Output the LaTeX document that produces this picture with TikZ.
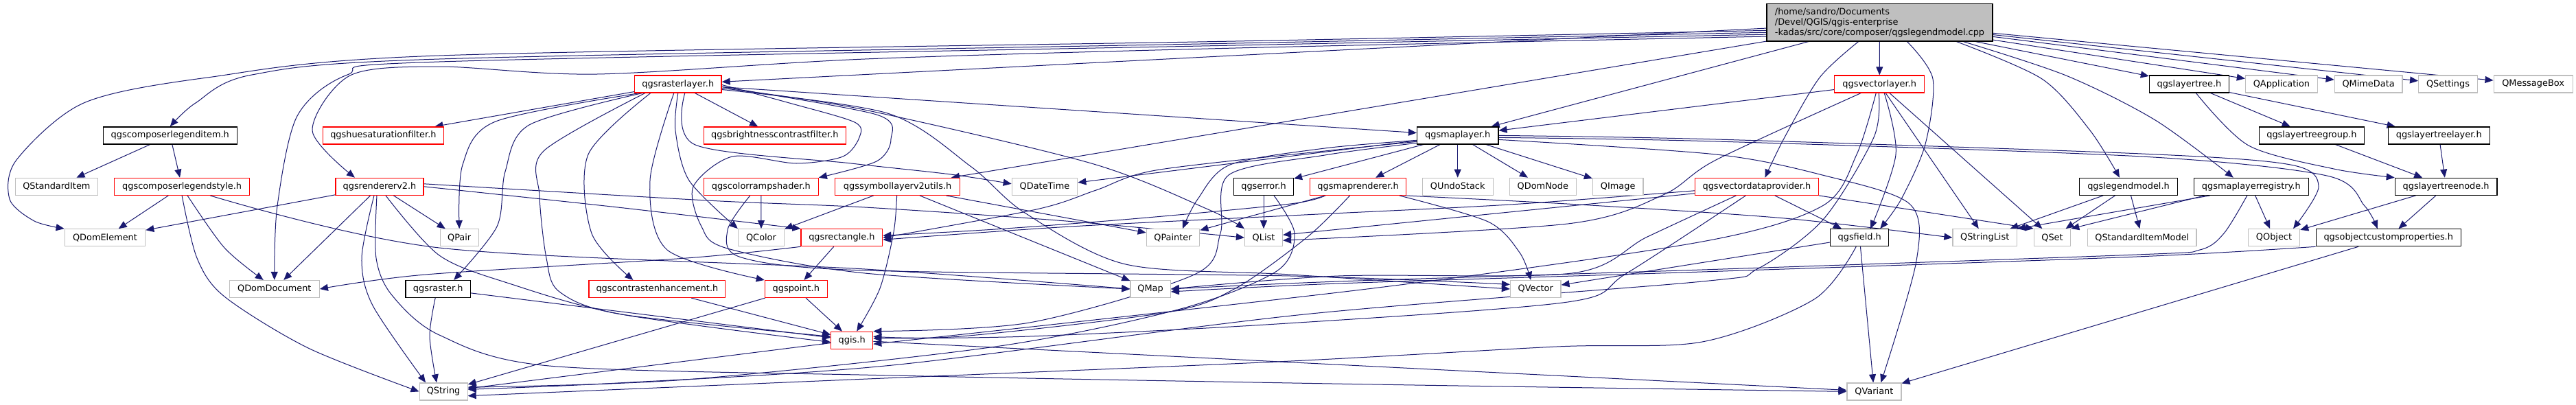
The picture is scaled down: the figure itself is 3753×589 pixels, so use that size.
\documentclass[tikz,border=0pt]{standalone}
\usepackage{fontspec}
\setmainfont{DejaVu Sans}
\usepackage{tikz}
\usetikzlibrary{arrows.meta,backgrounds}
\definecolor{lnk}{HTML}{191970}
\definecolor{grey75}{HTML}{BFBFBF}
\definecolor{trunc}{HTML}{FF0000}
\newcommand{\dxfont}{\fontsize{12.9}{14.7}\selectfont}
\tikzset{
  >={Triangle[length=12pt,width=10pt]},
  box/.style={draw=black,line width=1.2pt,fill=white,minimum height=25pt,inner sep=2pt,font=\dxfont,align=center},
  rbox/.style={box,draw=trunc},
  gbox/.style={box,draw=grey75},
  tbox/.style={box,fill=grey75,minimum height=54.5pt,align=left},
  arr/.style={->,draw=lnk,line width=1pt},
}

\begin{document}
\begin{tikzpicture}[x=1pt,y=-1pt]
\useasboundingbox (0,0) rectangle (3753,589);
% the file itself
\node[tbox,minimum width=329pt] (root) at (2738.5,32.8) {/home/sandro/Documents\\/Devel/QGIS/qgis-enterprise\\-kadas/src/core/composer/qgslegendmodel.cpp};
% row 1
\node[rbox,minimum width=126.5pt] (rlay) at (987.8,122.5) {qgsrasterlayer.h};
\node[rbox,minimum width=131pt] (vlay) at (2738.2,122.5) {qgsvectorlayer.h};
\node[box,minimum width=116pt] (ltree) at (3189.4,122.5) {qgslayertree.h};
\node[gbox,minimum width=105pt] (qapp) at (3323.9,122.5) {QApplication};
\node[gbox,minimum width=98.7pt] (qmime) at (3450.6,122.5) {QMimeData};
\node[gbox,minimum width=85.7pt] (qsett) at (3566.5,122.5) {QSettings};
\node[gbox,minimum width=115pt] (qmbox) at (3690.6,122.5) {QMessageBox};
% row 2
\node[box,minimum width=195pt] (cli) at (247.8,197.4) {qgscomposerlegenditem.h};
\node[rbox,minimum width=176pt] (hsf) at (558.4,197.4) {qgshuesaturationfilter.h};
\node[rbox,minimum width=207pt] (bcf) at (1128.8,197.4) {qgsbrightnesscontrastfilter.h};
\node[box,minimum width=118.4pt] (mlay) at (2123.7,197.4) {qgsmaplayer.h};
\node[box,minimum width=153pt] (ltgrp) at (3367.9,197.4) {qgslayertreegroup.h};
\node[box,minimum width=148pt] (ltlay) at (3553.2,197.4) {qgslayertreelayer.h};
% row 3
\node[gbox,minimum width=120pt] (qsitem) at (82.4,271.8) {QStandardItem};
\node[rbox,minimum width=197pt] (cls) at (265.1,271.8) {qgscomposerlegendstyle.h};
\node[rbox,minimum width=128pt] (rend) at (553,271.8) {qgsrendererv2.h};
\node[rbox,minimum width=167pt] (crs) at (1108.8,271.8) {qgscolorrampshader.h};
\node[rbox,minimum width=182.5pt] (slu) at (1307.6,271.8) {qgssymbollayerv2utils.h};
\node[gbox,minimum width=95.5pt] (qdtime) at (1522,271.8) {QDateTime};
\node[box,minimum width=87pt] (err) at (1841,271.8) {qgserror.h};
\node[rbox,minimum width=140pt] (mrend) at (1978.6,271.8) {qgsmaprenderer.h};
\node[gbox,minimum width=103pt] (qundo) at (2123.7,271.8) {QUndoStack};
\node[gbox,minimum width=97pt] (qdnode) at (2247.8,271.8) {QDomNode};
\node[gbox,minimum width=73.5pt] (qimg) at (2357.2,271.8) {QImage};
\node[rbox,minimum width=180pt] (vdp) at (2559.4,271.8) {qgsvectordataprovider.h};
\node[box,minimum width=143pt] (lmod) at (3101,271.8) {qgslegendmodel.h};
\node[box,minimum width=167pt] (mlreg) at (3279.8,271.8) {qgsmaplayerregistry.h};
\node[box,minimum width=148.6pt] (ltnode) at (3563.6,271.8) {qgslayertreenode.h};
% row 4
\node[gbox,minimum width=117.5pt] (qdelem) at (153,346.2) {QDomElement};
\node[gbox,minimum width=56pt] (qpair) at (669.2,346.2) {QPair};
\node[gbox,minimum width=67pt] (qcolor) at (1109,346.2) {QColor};
\node[rbox,minimum width=118.7pt] (rect) at (1226.4,346.2) {qgsrectangle.h};
\node[gbox,minimum width=77.6pt] (qpaint) at (1709,346.2) {QPainter};
\node[gbox,minimum width=55pt] (qlist) at (1841,346.2) {QList};
\node[box,minimum width=85.3pt] (fld) at (2709.2,346.2) {qgsfield.h};
\node[gbox,minimum width=93.5pt] (qslist) at (2891.7,346.2) {QStringList};
\node[gbox,minimum width=53.4pt] (qset) at (2990,346.2) {QSet};
\node[gbox,minimum width=158.3pt] (qsim) at (3120.8,346.2) {QStandardItemModel};
\node[gbox,minimum width=75.2pt] (qobj) at (3313,346.2) {QObject};
\node[box,minimum width=211pt] (ocp) at (3479.7,346.2) {qgsobjectcustomproperties.h};
% row 5
\node[gbox,minimum width=131pt] (qddoc) at (399.8,421) {QDomDocument};
\node[box,minimum width=94.3pt] (rast) at (638.2,421) {qgsraster.h};
\node[rbox,minimum width=198.7pt] (cenh) at (957.4,421) {qgscontrastenhancement.h};
\node[rbox,minimum width=91pt] (pnt) at (1159.8,421) {qgspoint.h};
\node[gbox,minimum width=58.4pt] (qmap) at (1676.1,421) {QMap};
\node[gbox,minimum width=73.5pt] (qvec) at (2237.2,421) {QVector};
% row 6 and 7
\node[rbox,minimum width=61pt] (qgis) at (1241.2,495.7) {qgis.h};
\node[gbox,minimum width=70pt] (qstr) at (646.1,570.4) {QString};
\node[gbox,minimum width=79pt] (qvar) at (2730.4,570.4) {QVariant};

\begin{scope}[on background layer]
\fill[white] (0,0) rectangle (3753,589);
% from the file
\draw[arr] plot[smooth] coordinates {(root.184) (1800,60) (640,81) (302,113) (122,150) (24,233) (14,290) (50,322) (qdelem.north west)};
\draw[arr] plot[smooth] coordinates {(root.185) (1800,63) (640,86) (367,109) (285,150) (cli.north)};
\draw[arr] plot[smooth] coordinates {(root.186) (1800,66) (640,90) (506,109) (433,169) (404,300) (qddoc.north)};
\draw[arr] plot[smooth] coordinates {(root.187) (1800,70) (1260,86) (870,108) (640,97) (510,110) (455,190) (rend.160)};
\draw[arr] (root) -- (rlay);
\draw[arr] (root) -- (slu);
\draw[arr] (root) -- (mlay);
\draw[arr] plot[smooth] coordinates {([xshift=-31pt]root.south) (2651,113) (2600,200) ([xshift=12pt]vdp.north)};
\draw[arr] (root) -- (vlay);
\draw[arr] plot[smooth] coordinates {([xshift=40pt]root.south) (2816,115) (2805,210) (2770,290) ([xshift=30pt]fld.north)};
\draw[arr] plot[smooth] coordinates {([xshift=112pt]root.south) (2975,115) (3045,190) ([xshift=-13pt]lmod.north)};
\draw[arr] plot[smooth] coordinates {([xshift=122pt]root.south) (3010,110) (3140,175) ([xshift=-26pt]mlreg.north)};
\draw[arr] (root) -- (ltree);
\draw[arr] (root) -- (qapp);
\draw[arr] (root) -- (qmime);
\draw[arr] (root) -- (qsett);
\draw[arr] (root) -- (qmbox);
% composer legend
\draw[arr] (cli) -- (qsitem);
\draw[arr] (cli) -- (cls);
\draw[arr] (cls) -- (qdelem);
\draw[arr] plot[smooth] coordinates {([xshift=8pt]cls.south) (327,361) ([xshift=-16pt]qddoc.north)};
\draw[arr] plot[smooth] coordinates {(cls.south) (287,376) (327,432) (449,507) (qstr.west)};
\draw[arr] plot[smooth] coordinates {([xshift=41pt]cls.south) (640,361) (1260,392) (qmap.west)};
% renderer
\draw[arr] (rend) -- (qdelem);
\draw[arr] (rend) -- (qddoc);
\draw[arr] plot[smooth] coordinates {([xshift=-8pt]rend.south) (527,376) (543,445) ([xshift=-26pt]qstr.north)};
\draw[arr] plot[smooth] coordinates {([xshift=-4pt]rend.south) (548,376) (571,430) (640,488) (800,533) (1300,547) (2000,560) (qvar.west)};
\draw[arr] plot[smooth] coordinates {([xshift=9pt]rend.south) (640,372) (742,413) (906,458) (qgis.185)};
\draw[arr] (rend) -- (qpair);
\draw[arr] plot[smooth] coordinates {(rend.east) (900,302) (rect.north west)};
\draw[arr] plot[smooth] coordinates {([yshift=4pt]rend.east) (1030,292) (1260,302) (1553,322) (qlist.west)};
% raster layer
\draw[arr] (rlay) -- (hsf);
\draw[arr] plot[smooth] coordinates {([xshift=-56pt]rlay.south) (722,177) (674,240) (qpair.north)};
\draw[arr] plot[smooth] coordinates {([xshift=-52pt]rlay.south) (771,182) (736,250) (724,330) ([xshift=23pt]rast.north)};
\draw[arr] plot[smooth] coordinates {([xshift=-48pt]rlay.south) (792,220) (786,285) (796,376) (815,425) (906,458) (qgis.170)};
\draw[arr] plot[smooth] coordinates {([xshift=-40pt]rlay.south) (857,225) (862,340) ([xshift=-35pt]cenh.north)};
\draw[arr] plot[smooth] coordinates {([xshift=-6pt]rlay.south) (947,263) (972,364) (pnt.north west)};
\draw[arr] plot[smooth] coordinates {(rlay.south) (984,190) (1004,263) (qcolor.north west)};
\draw[arr] (rlay) -- (bcf);
\draw[arr] plot[smooth] coordinates {([xshift=10pt]rlay.south) (1013,211) (1240,238) (1385,254) ([yshift=4pt]qdtime.west)};
\draw[arr] plot[smooth] coordinates {([yshift=-4pt]rlay.east) (1277,167) (1298,203) (1277,235) (crs.north east)};
\draw[arr] plot[smooth] coordinates {([yshift=-1pt]rlay.east) (1150,150) (1245,178) (1252,200) (1228,228) (1160,238) (1067,228) (1010,272) (1022,330) (1060,362) (1260,398) (qmap.west)};
\draw[arr] plot[smooth] coordinates {([yshift=-6pt]rlay.east) (1250,158) (1590,238) (1760,305) (qlist.north west)};
\draw[arr] plot[smooth] coordinates {([yshift=-8pt]rlay.east) (1293,165) (1415,243) (1493,310) (1640,385) (1880,400) (qvec.west)};
\draw[arr] (rlay) -- (mlay);
% shader, symbol utils
\draw[arr] (crs) -- (qcolor);
\draw[arr] plot[smooth] coordinates {([xshift=-16pt]crs.south) (1060,335) (1080,375) (1260,394) (1880,402) (qvec.170)};
\draw[arr] (slu) -- (qcolor);
\draw[arr] plot[smooth] coordinates {([xshift=-1pt]slu.south) (1302,338) (1282,420) ([xshift=7pt]qgis.north)};
\draw[arr] (slu) -- (qmap);
\draw[arr] (slu) -- (qpaint);
% rectangle, point, raster, qgis
\draw[arr] plot[smooth] coordinates {(rect.south west) (1000,376) (620,400) (qddoc.east)};
\draw[arr] (rect) -- (pnt);
\draw[arr] (pnt) -- (qgis);
\draw[arr] (pnt) -- (qstr);
\draw[arr] (cenh) -- (qgis);
\draw[arr] plot[smooth] coordinates {([xshift=-4pt]rast.south) (626,490) ([xshift=-10pt]qstr.north)};
\draw[arr] (rast) -- (qgis);
\draw[arr] (qgis) -- (qstr);
\draw[arr] (qgis) -- (qvar);
% map layer
\draw[arr] (mlay) -- (mrend);
\draw[arr] (mlay) -- (qundo);
\draw[arr] (mlay) -- (qdnode);
\draw[arr] (mlay) -- (qimg);
\draw[arr] (mlay) -- (err);
\draw[arr] (mlay) -- (qdtime);
\draw[arr] plot[smooth] coordinates {([yshift=-7pt]mlay.west) (1930,216) (1792,240) (1745,290) ([xshift=14pt]qpaint.north)};
\draw[arr] plot[smooth] coordinates {([yshift=-9pt]mlay.west) (1930,220) (1684,248) (1597,277) (1510,305) (rect.east)};
\draw[arr] plot[smooth] coordinates {([yshift=-11pt]mlay.west) (1930,226) (1790,255) (1778,340) (1740,400) (1500,470) (qgis.north east)};
\draw[arr] plot[smooth] coordinates {(mlay.east) (2500,203) (3120,224) (3337,240) (3378,272) ([xshift=28pt]qobj.north)};
\draw[arr] plot[smooth] coordinates {([yshift=-3pt]mlay.east) (2500,206) (3120,228) (3390,256) (3445,300) ([xshift=-16pt]ocp.north)};
\draw[arr] plot[smooth] coordinates {([yshift=-6pt]mlay.east) (2500,225) (2655,255) (2782,297) (2792,380) ([xshift=10pt]qvar.north)};
% error, map renderer
\draw[arr] (err) -- (qlist);
\draw[arr] plot[smooth] coordinates {([xshift=15pt]err.south) (1886,340) (1860,395) (1720,450) (1450,505) (1000,553) (qstr.10)};
\draw[arr] plot[smooth] coordinates {([xshift=60pt]mrend.south) (2168,323) (2214,368) ([xshift=-7pt]qvec.north)};
\draw[arr] plot[smooth] coordinates {([xshift=68pt]mrend.south) (2300,298) (2600,318) (qslist.west)};
\draw[arr] plot[smooth] coordinates {([xshift=-48pt]mrend.south) (1880,297) (1660,318) (1450,334) ([yshift=3pt]rect.east)};
\draw[arr] plot[smooth] coordinates {([xshift=-12pt]mrend.south) (1905,345) (1800,420) (1700,455) (1400,490) (qgis.10)};
\draw[arr] (mrend) -- (qpaint);
% vector data provider
\draw[arr] (vdp) -- (fld);
\draw[arr] (vdp.south east) -- (qset.north west);
\draw[arr] plot[smooth] coordinates {([yshift=-6pt]vdp.west) (2200,298) (1900,313) (1560,330) ([yshift=-3pt]rect.east)};
\draw[arr] ([yshift=-10pt]vdp.west) -- ([yshift=4pt]qlist.east);
\draw[arr] plot[smooth] coordinates {([xshift=-16pt]vdp.south) (2370,398) (2284,440) (1860,472) (1500,490) (qgis.5)};
\draw[arr] plot[smooth] coordinates {([xshift=-30pt]vdp.south) (2400,345) (2290,398) (1950,402) (qmap.east)};
% vector layer
\draw[arr] (vlay) -- (mlay);
\draw[arr] plot[smooth] coordinates {([xshift=-27pt]vlay.south) (2500,233) (2423,284) (2284,326) ([yshift=-4pt]qlist.east)};
\draw[arr] plot[smooth] coordinates {([xshift=-5pt]vlay.south) (2705,225) (2655,300) (2480,352) (2000,420) (qgis.350)};
\draw[arr] plot[smooth] coordinates {([xshift=-1pt]vlay.south) (2730,200) (2656,320) (2560,392) (2480,410) (1900,458) (1300,532) (900,558) (qstr.5)};
\draw[arr] plot[smooth] coordinates {([xshift=7pt]vlay.south) (2762,225) ([xshift=16pt]fld.north)};
\draw[arr] (vlay) -- (qslist);
\draw[arr] (vlay) -- (qset);
% field
\draw[arr] (fld) -- (qvar);
\draw[arr] (fld) -- (qvec);
\draw[arr] plot[smooth] coordinates {([xshift=-5pt]fld.south) (2643,436) (2480,498) (2268,505) (1860,527) (1240,553) (qstr.350)};
% legend model, registry
\draw[arr] (lmod) -- (qslist);
\draw[arr] (lmod) -- (qset);
\draw[arr] (lmod) -- (qsim);
\draw[arr] (mlreg) -- (qobj);
\draw[arr] ([xshift=-60pt]mlreg.south) -- (qslist.north east);
\draw[arr] ([xshift=-68pt]mlreg.south) -- (qset.north east);
\draw[arr] plot[smooth] coordinates {([xshift=-6pt]mlreg.south) (3240,340) (3205,364) (3113,371) (2480,393) (1950,410) (qmap.east)};
% layer tree
\draw[arr] (ltree) -- (ltgrp);
\draw[arr] (ltree) -- (ltlay);
\draw[arr] plot[smooth] coordinates {([xshift=10pt]ltree.south) (3276,212) (3400,246) (ltnode.north west)};
\draw[arr] (ltgrp) -- (ltnode);
\draw[arr] (ltlay) -- (ltnode);
\draw[arr] (ltnode) -- (qobj);
\draw[arr] (ltnode) -- (ocp);
% custom properties
\draw[arr] plot[smooth] coordinates {(ocp.south west) (3113,374) (2480,396) (1950,413) ([yshift=-4pt]qmap.east)};
\draw[arr] (ocp) -- (qvar);
\end{scope}
\end{tikzpicture}
\end{document}
